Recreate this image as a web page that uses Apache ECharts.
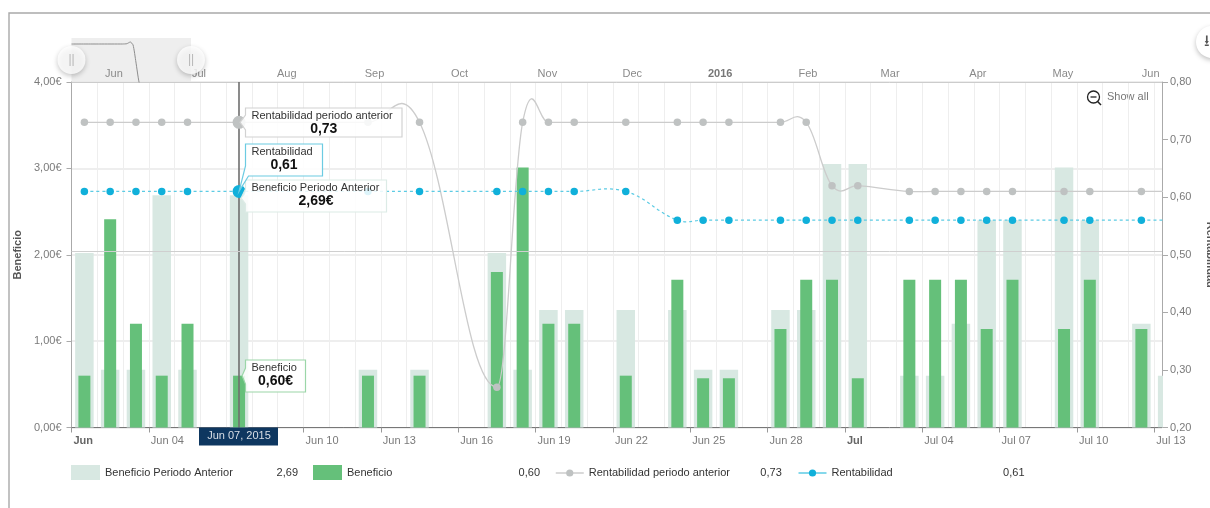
<!DOCTYPE html>
<html>
<head>
<meta charset="utf-8">
<title>Beneficio y Rentabilidad</title>
<script src="https://cdn.jsdelivr.net/npm/echarts@6/dist/echarts.min.js"></script>
<style>
html,body{margin:0;padding:0;background:#fff;overflow:hidden}
#chart{width:1210px;height:508px}
</style>
</head>
<body>
<div id="chart"></div>
<script>
// Day offsets count from Jun 1, 2015; a day's marks sit at the middle of its slot.
const priorDays    = [0,1,2,3,4,6,11,13,16,17,18,19,21,23,24,25,27,28,29,30,32,33,34,35,36,38,39,41,42];
const priorValues  = [2.02,0.67,0.67,2.69,0.67,2.69,0.67,0.67,2.02,0.67,1.36,1.36,1.36,1.36,0.67,0.67,1.36,1.36,3.05,3.05,0.60,0.60,1.20,2.40,2.40,3.01,2.40,1.20,0.60];
const benefitDays  = [0,1,2,3,4,6,11,13,16,17,18,19,21,23,24,25,27,28,29,30,32,33,34,35,36,38,39,41];
const benefitValues= [0.60,2.41,1.20,0.60,1.20,0.60,0.60,0.60,1.80,3.01,1.20,1.20,0.60,1.71,0.57,0.57,1.14,1.71,1.71,0.57,1.71,1.71,1.71,1.14,1.71,1.14,1.71,1.14];
const lineDays     = [0,1,2,3,4,6,11,13,16,17,18,19,21,23,24,25,27,28,29,30,32,33,34,35,36,38,39,41,42];
const priorRent    = [0.73,0.73,0.73,0.73,0.73,0.73,0.73,0.73,0.27,0.73,0.73,0.73,0.73,0.73,0.73,0.73,0.73,0.73,0.62,0.62,0.61,0.61,0.61,0.61,0.61,0.61,0.61,0.61,0.61];
const rentability  = [0.61,0.61,0.61,0.61,0.61,0.61,0.61,0.61,0.61,0.61,0.61,0.61,0.61,0.56,0.56,0.56,0.56,0.56,0.56,0.56,0.56,0.56,0.56,0.56,0.56,0.56,0.56,0.56,0.56];

const dayTicks   = [0,3,6,9,12,15,18,21,24,27,30,33,36,39,42];
const dayLabels  = ['Jun','Jun 04','','Jun 10','Jun 13','Jun 16','Jun 19','Jun 22','Jun 25','Jun 28','Jul','Jul 04','Jul 07','Jul 10','Jul 13'];
const monthTicks = [15,45,76,107,137,168,198,229,260,289,320,350,381];
const monthLabels= ['Jun','Jul','Aug','Sep','Oct','Nov','Dec','2016','Feb','Mar','Apr','May','Jun'];

// Overview strip: the previous-period curve as it appears at the year scale.
const overviewDays   = [0,10,18,19.6,20.8,21.8,22.8,23.9,25];
const overviewHeight = [38,38,38,38.3,40,37,20,0,-8];

const selectedDay = 6;
const selectedDate = 'Jun 07, 2015';
const legendTotals = {'Beneficio Periodo Anterior':'2,69','Beneficio':'0,60','Rentabilidad periodo anterior':'0,73','Rentabilidad':'0,61'};
const visibleDays = 42.3;
const overviewSpan = 385;

const C = {prior:'#d8e8e2', benefit:'#65c07a', grayDot:'#bfc2c2', grayLine:'#cccccc', blueDot:'#10b0da', blueLine:'#5ccbe4', text:'#7a7a7a', ink:'#333333'};
const FONT = '"Liberation Sans", Arial, sans-serif';
const PRIOR_BAR_WIDTH = 18.5;

const pairs = (days, values) => days.map((d, i) => [d + 0.5, values[i]]);
const dotSize = v => (v[0] === selectedDay + 0.5 ? 13 : 7.5);
const priorPairs = pairs(priorDays, priorValues);

// Cubic spline through pixel points; tangents follow the neighbours and may overshoot them.
function splineSegments(px) {
  const K = 1.5, D = 2.5;
  const controls = px.map((p, i) => {
    if (i === 0 || i === px.length - 1) return {l:p, r:p};
    const a = px[i - 1], b = px[i + 1];
    const lx = (K * p[0] + a[0]) / D, ly = (K * p[1] + a[1]) / D;
    const rx = (K * p[0] + b[0]) / D, ry = (K * p[1] + b[1]) / D;
    const c = (ry - ly) * (rx - p[0]) / (rx - lx) + p[1] - ry;
    return {l:[lx, ly + c], r:[rx, ry + c]};
  });
  return px.slice(1).map((p, i) => ({
    x1:px[i][0], y1:px[i][1], cpx1:controls[i].r[0], cpy1:controls[i].r[1],
    cpx2:controls[i + 1].l[0], cpy2:controls[i + 1].l[1], x2:p[0], y2:p[1]
  }));
}

function splineSeries(values, style, z) {
  return {type:'custom', xAxisIndex:0, yAxisIndex:1, z, silent:true, clip:true, data:[[0.5, values[0]]],
    renderItem:(params, api) => ({type:'group', children:
      splineSegments(pairs(lineDays, values).map(v => api.coord(v)))
        .map(shape => ({type:'bezierCurve', shape, style:Object.assign({fill:null}, style)}))})};
}

// One readout box: a callout polygon whose tail reaches the hovered point.
function readout(api, cfg) {
  const p = api.coord([selectedDay + 0.5, cfg.value]);
  const x0 = Math.round(p[0]) + 6.5, x1 = x0 + cfg.w;
  const y0 = Math.round(p[1]) + cfg.dy, y1 = y0 + cfg.h;
  const tip = [p[0] + (cfg.tipDx || 0), p[1] + (cfg.tipDy || 0)];
  const points = [[x0,y0],[x1,y0],[x1,y1],[x0 + (cfg.baseEnd || 0),y1]];
  if (cfg.tailBottom) points.push([x0, y0 + cfg.tailBottom]);
  points.push(tip, [x0, y0 + cfg.tailTop]);
  return {type:'group', children:[
    {type:'polygon', shape:{points}, style:{fill:'rgba(255,255,255,0.86)', stroke:cfg.color, lineWidth:cfg.lw || 1.2}},
    {type:'text', style:{x:x0 + 6, y:y0 + 8, text:cfg.title, font:'11px ' + FONT, fill:C.ink, align:'left', verticalAlign:'middle'}},
    {type:'text', style:{x:(x0 + x1) / 2, y:y0 + 21, text:cfg.text, font:'bold 14px ' + FONT, fill:'#111', align:'center', verticalAlign:'middle'}}
  ]};
}

const legendText = {
  formatter:name => `{n|${name}}{v|${legendTotals[name]}}`,
  textStyle:{rich:{
    n:{width:160, fontSize:11, color:C.ink, fontFamily:FONT, align:'left'},
    v:{width:33, fontSize:11, color:C.ink, fontFamily:FONT, align:'right'}
  }}
};

const chart = echarts.init(document.getElementById('chart'), null, {renderer:'canvas'});

chart.setOption({
  animation:false,
  backgroundColor:'#fff',
  textStyle:{fontFamily:FONT},
  grid:[
    {left:71.5, right:48, top:82, height:345.5, containLabel:false, outerBoundsMode:'none'},
    {left:71.5, top:38, width:119.5, height:44, show:true, backgroundColor:'#eeeeee', borderWidth:0, outerBoundsMode:'none'}
  ],
  legend:[
    Object.assign({left:71, top:465, padding:0, itemWidth:29, itemHeight:15, itemGap:15, selectedMode:false,
      data:[{name:'Beneficio Periodo Anterior', icon:'rect'},{name:'Beneficio', icon:'rect'}]}, legendText),
    Object.assign({left:555, top:467.5, padding:0, itemWidth:28, itemHeight:9, itemGap:16, selectedMode:false,
      data:[
        {name:'Rentabilidad periodo anterior', lineStyle:{color:C.grayLine, width:1.5, opacity:1}},
        {name:'Rentabilidad', lineStyle:{color:C.blueLine, width:1.5, opacity:1, type:'solid'}}
      ]}, legendText)
  ],
  xAxis:[
    // Day slots: carries the thin vertical rules and the baseline.
    {type:'value', gridIndex:0, min:0, max:visibleDays, interval:1, position:'bottom',
      axisLine:{onZero:false, lineStyle:{color:'#777', width:1}}, axisTick:{show:false}, axisLabel:{show:false},
      splitLine:{show:true, lineStyle:{color:'#eeeeee', width:1}}},
    // Every third day: ticks and dates.
    {type:'value', gridIndex:0, min:0, max:visibleDays, position:'bottom',
      axisLine:{show:false, onZero:false},
      axisTick:{show:true, length:5, customValues:dayTicks, lineStyle:{color:'#999'}},
      axisLabel:{show:true, customValues:dayTicks, margin:8, align:'left', color:C.text, fontSize:11,
        formatter:v => {
          const t = dayLabels[dayTicks.indexOf(v)];
          return (t === 'Jun' || t === 'Jul') ? `{b|${t}}` : t;
        },
        rich:{b:{fontWeight:'bold', color:'#666', fontSize:11, fontFamily:FONT}}, padding:[0,0,0,2]},
      splitLine:{show:false}},
    // Year scale above the plot, with month names centred on each month.
    {type:'value', gridIndex:0, min:0, max:overviewSpan, position:'top',
      axisLine:{show:true, onZero:false, lineStyle:{color:'#cccccc'}}, axisTick:{show:false},
      axisLabel:{show:true, customValues:monthTicks, margin:3, color:'#8a8a8a', fontSize:11,
        formatter:v => {
          const t = monthLabels[monthTicks.indexOf(v)];
          return t === '2016' ? `{b|${t}}` : t;
        },
        rich:{b:{fontWeight:'bold', color:'#777', fontSize:11, fontFamily:FONT}}},
      splitLine:{show:false}},
    {type:'value', gridIndex:1, min:0, max:visibleDays, show:false}
  ],
  yAxis:[
    {type:'value', gridIndex:0, min:0, max:4, interval:1, position:'left',
      name:'Beneficio', nameLocation:'middle', nameGap:43, nameRotate:90,
      nameTextStyle:{fontWeight:'bold', fontSize:11, color:'#555'},
      axisLine:{show:true, onZero:false, lineStyle:{color:'#aaaaaa'}}, axisTick:{show:true, length:5, lineStyle:{color:'#aaaaaa'}},
      axisLabel:{margin:10, padding:[2,0,0,0], color:C.text, fontSize:11, formatter:v => v.toFixed(2).replace('.', ',') + '€'},
      splitLine:{show:true, lineStyle:{color:'#e9e9e9', width:1.5}}},
    {type:'value', gridIndex:0, min:0.2, max:0.8, interval:0.1, position:'right',
      name:'Rentabilidad', nameLocation:'middle', nameGap:43, nameRotate:-90,
      nameTextStyle:{fontWeight:'bold', fontSize:11, color:'#555'},
      axisLine:{show:true, onZero:false, lineStyle:{color:'#aaaaaa'}}, axisTick:{show:true, length:6, lineStyle:{color:'#aaaaaa'}},
      axisLabel:{margin:8, padding:[2,0,0,0], color:C.text, fontSize:11, formatter:v => v.toFixed(2).replace('.', ',')},
      splitLine:{show:false}},
    {type:'value', gridIndex:1, min:0, max:44, show:false}
  ],
  series:[
    {name:'Beneficio Periodo Anterior', type:'bar', xAxisIndex:1, yAxisIndex:0, barWidth:PRIOR_BAR_WIDTH,
      itemStyle:{color:C.prior}, data:priorPairs.filter(p => p[0] < visibleDays), z:2,
      markLine:{silent:true, symbol:'none', label:{show:false}, animation:false,
        lineStyle:{color:'#cfcfcf', width:1, type:'solid'}, data:[{yAxis:2.04}]}},
    // A bar centred past the plot's right edge shows only its clipped left part.
    {type:'custom', xAxisIndex:1, yAxisIndex:0, z:2, silent:true, clip:true,
      data:priorPairs.filter(p => p[0] >= visibleDays),
      renderItem:(params, api) => {
        const top = api.coord([api.value(0), api.value(1)]);
        const base = api.coord([api.value(0), 0]);
        return {type:'rect', shape:{x:top[0] - PRIOR_BAR_WIDTH / 2, y:top[1], width:PRIOR_BAR_WIDTH, height:base[1] - top[1]}, style:{fill:C.prior}};
      }},
    {name:'Beneficio', type:'bar', xAxisIndex:0, yAxisIndex:0, barWidth:12,
      itemStyle:{color:C.benefit}, data:pairs(benefitDays, benefitValues), z:3},
    // Crosshair runs over the bars but under the point markers; the date flag hangs below it.
    {type:'custom', xAxisIndex:0, yAxisIndex:0, z:4, silent:true, clip:false, data:[[selectedDay + 0.5, 0]],
      renderItem:(params, api) => {
        const top = api.coord([selectedDay + 0.5, 4]);
        const bottom = api.coord([selectedDay + 0.5, 0]);
        const cx = Math.round(bottom[0]);
        return {type:'group', children:[
          {type:'line', shape:{x1:cx, y1:top[1], x2:cx, y2:bottom[1]}, style:{stroke:'#6f6f6f', lineWidth:1.6}},
          {type:'rect', shape:{x:cx - 40, y:bottom[1], width:79, height:18}, style:{fill:'#0e3760'}},
          {type:'text', style:{x:cx, y:bottom[1] + 8.5, text:selectedDate, font:'11px ' + FONT, fill:'#d9dfe6', align:'center', verticalAlign:'middle'}}
        ]};
      }},
    splineSeries(priorRent, {stroke:C.grayLine, lineWidth:1.3}, 4),
    splineSeries(rentability, {stroke:C.blueLine, lineWidth:1.2, lineDash:[3,3]}, 4),
    {name:'Rentabilidad periodo anterior', type:'line', xAxisIndex:0, yAxisIndex:1, symbol:'circle',
      symbolSize:dotSize, showAllSymbol:true, itemStyle:{color:C.grayDot},
      lineStyle:{opacity:0}, data:pairs(lineDays, priorRent), z:5},
    {name:'Rentabilidad', type:'line', xAxisIndex:0, yAxisIndex:1, symbol:'circle',
      symbolSize:dotSize, showAllSymbol:true, itemStyle:{color:C.blueDot},
      lineStyle:{opacity:0}, data:pairs(lineDays, rentability), z:5},
    // The two euro readouts.
    {type:'custom', xAxisIndex:0, yAxisIndex:0, z:8, silent:true, clip:false, data:[[selectedDay + 0.5, 0]],
      renderItem:(params, api) => ({type:'group', children:[
        readout(api, {value:priorValues[priorDays.indexOf(selectedDay)], title:'Beneficio Periodo Anterior', text:'2,69€', color:'#dcebe6',
          w:141, h:32, dy:-15, tipDx:2, tipDy:3, tailTop:9, tailBottom:24}),
        readout(api, {value:benefitValues[benefitDays.indexOf(selectedDay)], title:'Beneficio', text:'0,60€', color:'#9bd6a8',
          w:60, h:32, dy:-16, tipDx:3, tipDy:0, tailTop:8, tailBottom:24})
      ]})},
    // Ratio readouts, tied to the right-hand scale.
    {type:'custom', xAxisIndex:0, yAxisIndex:1, z:9, silent:true, clip:false, data:[[selectedDay + 0.5, 0.6]],
      renderItem:(params, api) => ({type:'group', children:[
        readout(api, {value:priorRent[lineDays.indexOf(selectedDay)], title:'Rentabilidad periodo anterior', text:'0,73', color:'#d2d2d2',
          w:156.5, h:29, dy:-14, tipDx:1, tipDy:0, tailTop:7, tailBottom:22}),
        readout(api, {value:rentability[lineDays.indexOf(selectedDay)], title:'Rentabilidad', text:'0,61', color:'#6ccbe2',
          w:77, h:32, dy:-47, tipDx:0, tipDy:0, tailTop:22, baseEnd:3})
      ]})},
    // Overview strip with its two drag handles.
    {type:'line', xAxisIndex:3, yAxisIndex:2, smooth:0.2, symbol:'none', silent:true,
      lineStyle:{color:'#8d8d8d', width:1}, data:overviewDays.map((d, i) => [d, overviewHeight[i]]), z:6},
    {type:'scatter', xAxisIndex:3, yAxisIndex:2, clip:false, silent:true, symbolSize:28, z:7,
      itemStyle:{color:'#fff', shadowBlur:5, shadowOffsetY:2, shadowColor:'rgba(0,0,0,0.28)'},
      label:{show:true, position:'inside', formatter:'||', color:'#a8a8a8', fontSize:12},
      data:[[0,22],[visibleDays,22]]}
  ],
  graphic:[
    {type:'polyline', silent:true, z:-1, shape:{points:[[9,508],[9,13],[1210,13]]}, style:{stroke:'#a9a9a9', lineWidth:1.4, fill:'none'}},
    {type:'circle', silent:true, shape:{cx:1212, cy:42, r:16}, style:{fill:'#fff', shadowBlur:5, shadowOffsetY:2, shadowColor:'rgba(0,0,0,0.25)'}},
    {type:'text', silent:true, style:{x:1204, y:42, text:'⭳', font:'16px "DejaVu Sans"', fill:'#555', verticalAlign:'middle'}},
    {type:'group', silent:true, z:10, children:[
      {type:'circle', shape:{cx:1093.5, cy:97, r:6}, style:{fill:'none', stroke:'#222', lineWidth:1.3}},
      {type:'line', shape:{x1:1097.6, y1:101.5, x2:1101, y2:105}, style:{stroke:'#222', lineWidth:1.5}},
      {type:'line', shape:{x1:1090.5, y1:97, x2:1096.5, y2:97}, style:{stroke:'#222', lineWidth:1.3}},
      {type:'text', style:{x:1107, y:97, text:'Show all', font:'11px ' + FONT, fill:'#777', verticalAlign:'middle'}}
    ]}
  ]
});
</script>
</body>
</html>
